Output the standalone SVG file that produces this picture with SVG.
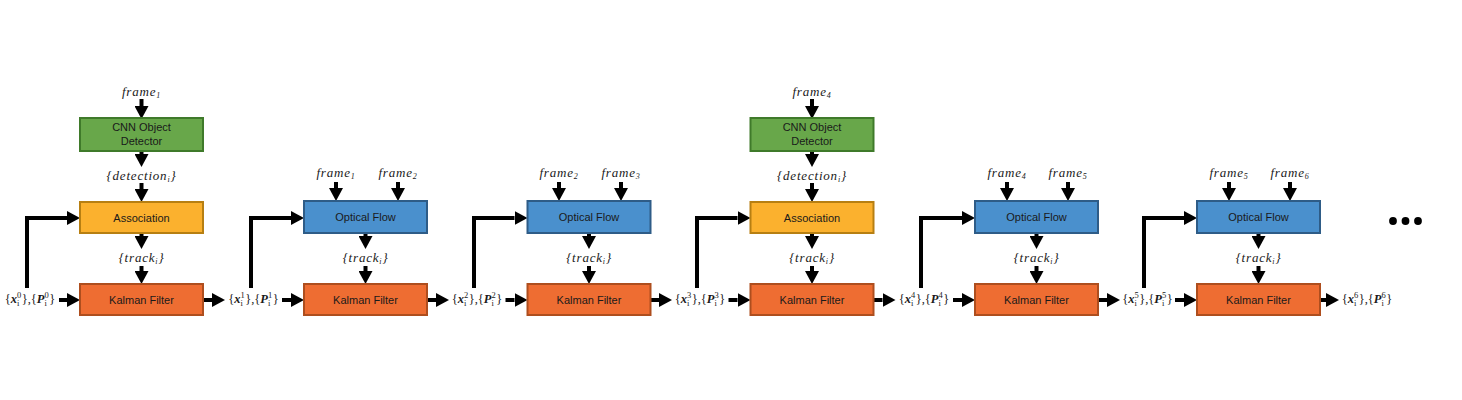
<svg xmlns="http://www.w3.org/2000/svg" width="1462" height="400" viewBox="0 0 1462 400">
<style>
.bx{stroke-width:2}
.cnn{fill:#68A74A;stroke:#3F7A2A}
.asc{fill:#FBB12E;stroke:#B77F12}
.of{fill:#4A90CD;stroke:#2E5C87}
.kf{fill:#EE6D32;stroke:#AE4E1E}
.bt{font-family:"Liberation Sans",Arial,sans-serif;font-size:11px;fill:#1a1a1a;text-anchor:middle}
.m{font-family:"Liberation Serif","Times New Roman",serif;font-size:13px;font-style:italic;fill:#1a1a1a;text-anchor:middle;letter-spacing:0.8px}
.lb{font-family:"Liberation Serif","Times New Roman",serif;font-size:12.5px;fill:#1a1a1a;text-anchor:middle}
.bi{font-weight:bold;font-style:italic}
.s{font-size:8px}
.ss{font-size:8.5px}
.ar{stroke:#000;stroke-width:4;fill:none}
</style>
<defs>
<marker id="ah" markerUnits="userSpaceOnUse" markerWidth="13" markerHeight="14" refX="0" refY="7" orient="auto">
<path d="M0,0 L13,7 L0,14 z" fill="#000"/>
</marker>
</defs>

<g id="connectors">
<!-- column 1 -->
<path class="ar" d="M141.5,99 V106" marker-end="url(#ah)"/>
<path class="ar" d="M141.5,151 V154" marker-end="url(#ah)"/>
<path class="ar" d="M141.5,183 V189" marker-end="url(#ah)"/>
<path class="ar" d="M141.5,233 V236" marker-end="url(#ah)"/>
<path class="ar" d="M141.5,266 V271" marker-end="url(#ah)"/>
<path class="ar" d="M27,288 V218 H67" marker-end="url(#ah)"/>
<path class="ar" d="M59,300 H67" marker-end="url(#ah)"/>
<path class="ar" d="M203,300 H212" marker-end="url(#ah)"/>
<!-- column 2 -->
<path class="ar" d="M336,182 V188" marker-end="url(#ah)"/>
<path class="ar" d="M398,182 V188" marker-end="url(#ah)"/>
<path class="ar" d="M365.5,233 V236" marker-end="url(#ah)"/>
<path class="ar" d="M365.5,266 V271" marker-end="url(#ah)"/>
<path class="ar" d="M251,288 V218 H291" marker-end="url(#ah)"/>
<path class="ar" d="M282,300 H291" marker-end="url(#ah)"/>
<path class="ar" d="M427,300 H436" marker-end="url(#ah)"/>
<!-- column 3 -->
<path class="ar" d="M559,182 V188" marker-end="url(#ah)"/>
<path class="ar" d="M621,182 V188" marker-end="url(#ah)"/>
<path class="ar" d="M589,233 V236" marker-end="url(#ah)"/>
<path class="ar" d="M589,266 V271" marker-end="url(#ah)"/>
<path class="ar" d="M474,288 V218 H514.5" marker-end="url(#ah)"/>
<path class="ar" d="M505.5,300 H514.5" marker-end="url(#ah)"/>
<path class="ar" d="M650,300 H659" marker-end="url(#ah)"/>
<!-- column 4 -->
<path class="ar" d="M812,99 V106" marker-end="url(#ah)"/>
<path class="ar" d="M812,151 V154" marker-end="url(#ah)"/>
<path class="ar" d="M812,183 V189" marker-end="url(#ah)"/>
<path class="ar" d="M812,233 V236" marker-end="url(#ah)"/>
<path class="ar" d="M812,266 V271" marker-end="url(#ah)"/>
<path class="ar" d="M697,288 V218 H737.5" marker-end="url(#ah)"/>
<path class="ar" d="M728.5,300 H737.5" marker-end="url(#ah)"/>
<path class="ar" d="M873.5,300 H882.5" marker-end="url(#ah)"/>
<!-- column 5 -->
<path class="ar" d="M1007,182 V188" marker-end="url(#ah)"/>
<path class="ar" d="M1068,182 V188" marker-end="url(#ah)"/>
<path class="ar" d="M1036.5,233 V236" marker-end="url(#ah)"/>
<path class="ar" d="M1036.5,266 V271" marker-end="url(#ah)"/>
<path class="ar" d="M921,288 V218 H962" marker-end="url(#ah)"/>
<path class="ar" d="M953,300 H962" marker-end="url(#ah)"/>
<path class="ar" d="M1098,300 H1107" marker-end="url(#ah)"/>
<!-- column 6 -->
<path class="ar" d="M1229,182 V188" marker-end="url(#ah)"/>
<path class="ar" d="M1290,182 V188" marker-end="url(#ah)"/>
<path class="ar" d="M1258.5,233 V236" marker-end="url(#ah)"/>
<path class="ar" d="M1258.5,266 V271" marker-end="url(#ah)"/>
<path class="ar" d="M1144,288 V218 H1184" marker-end="url(#ah)"/>
<path class="ar" d="M1175,300 H1184" marker-end="url(#ah)"/>
<path class="ar" d="M1320,300 H1326" marker-end="url(#ah)"/>
</g>

<!-- column 1 nodes -->
<g id="frame1a"><text class="m" x="141.5" y="96">frame<tspan class="s" dy="2">1</tspan></text></g>
<g id="cnn1"><rect class="bx cnn" x="80" y="118" width="123" height="33"/><text class="bt" x="141.5" y="131">CNN Object</text><text class="bt" x="141.5" y="145">Detector</text></g>
<g id="det1"><text class="m" x="141.5" y="180">{detection<tspan class="s" dy="2">i</tspan><tspan dy="-2">}</tspan></text></g>
<g id="assoc1"><rect class="bx asc" x="80" y="202" width="123" height="31"/><text class="bt" x="141.5" y="222">Association</text></g>
<g id="track1"><text class="m" x="141.5" y="262">{track<tspan class="s" dy="2">i</tspan><tspan dy="-2">}</tspan></text></g>
<g id="kf1"><rect class="bx kf" x="80" y="284" width="123" height="31"/><text class="bt" x="141.5" y="304">Kalman Filter</text></g>
<g id="state0"><text class="lb" x="30" y="303">{<tspan class="bi">x</tspan><tspan class="ss" dy="-5">0</tspan><tspan class="ss" dx="-4.3" dy="8">i</tspan><tspan dx="2.3" dy="-3">},{</tspan><tspan class="bi">P</tspan><tspan class="ss" dy="-5">0</tspan><tspan class="ss" dx="-4.3" dy="8">i</tspan><tspan dx="2.3" dy="-3">}</tspan></text></g>

<!-- column 2 nodes -->
<g id="state1"><text class="lb" x="253.5" y="303">{<tspan class="bi">x</tspan><tspan class="ss" dy="-5">1</tspan><tspan class="ss" dx="-4.3" dy="8">i</tspan><tspan dx="2.3" dy="-3">},{</tspan><tspan class="bi">P</tspan><tspan class="ss" dy="-5">1</tspan><tspan class="ss" dx="-4.3" dy="8">i</tspan><tspan dx="2.3" dy="-3">}</tspan></text></g>
<g id="frame1b"><text class="m" x="336" y="177">frame<tspan class="s" dy="2">1</tspan></text></g>
<g id="frame2b"><text class="m" x="398" y="177">frame<tspan class="s" dy="2">2</tspan></text></g>
<g id="of2"><rect class="bx of" x="304" y="201" width="123" height="32"/><text class="bt" x="365.5" y="221">Optical Flow</text></g>
<g id="track2"><text class="m" x="365.5" y="262">{track<tspan class="s" dy="2">i</tspan><tspan dy="-2">}</tspan></text></g>
<g id="kf2"><rect class="bx kf" x="304" y="284" width="123" height="31"/><text class="bt" x="365.5" y="304">Kalman Filter</text></g>

<!-- column 3 nodes -->
<g id="state2"><text class="lb" x="477" y="303">{<tspan class="bi">x</tspan><tspan class="ss" dy="-5">2</tspan><tspan class="ss" dx="-4.3" dy="8">i</tspan><tspan dx="2.3" dy="-3">},{</tspan><tspan class="bi">P</tspan><tspan class="ss" dy="-5">2</tspan><tspan class="ss" dx="-4.3" dy="8">i</tspan><tspan dx="2.3" dy="-3">}</tspan></text></g>
<g id="frame2c"><text class="m" x="559" y="177">frame<tspan class="s" dy="2">2</tspan></text></g>
<g id="frame3c"><text class="m" x="621" y="177">frame<tspan class="s" dy="2">3</tspan></text></g>
<g id="of3"><rect class="bx of" x="527.5" y="201" width="123" height="32"/><text class="bt" x="589" y="221">Optical Flow</text></g>
<g id="track3"><text class="m" x="589" y="262">{track<tspan class="s" dy="2">i</tspan><tspan dy="-2">}</tspan></text></g>
<g id="kf3"><rect class="bx kf" x="527.5" y="284" width="123" height="31"/><text class="bt" x="589" y="304">Kalman Filter</text></g>

<!-- column 4 nodes -->
<g id="state3"><text class="lb" x="700" y="303">{<tspan class="bi">x</tspan><tspan class="ss" dy="-5">3</tspan><tspan class="ss" dx="-4.3" dy="8">i</tspan><tspan dx="2.3" dy="-3">},{</tspan><tspan class="bi">P</tspan><tspan class="ss" dy="-5">3</tspan><tspan class="ss" dx="-4.3" dy="8">i</tspan><tspan dx="2.3" dy="-3">}</tspan></text></g>
<g id="frame4d"><text class="m" x="812" y="96">frame<tspan class="s" dy="2">4</tspan></text></g>
<g id="cnn4"><rect class="bx cnn" x="750.5" y="118" width="123" height="33"/><text class="bt" x="812" y="131">CNN Object</text><text class="bt" x="812" y="145">Detector</text></g>
<g id="det4"><text class="m" x="812" y="180">{detection<tspan class="s" dy="2">i</tspan><tspan dy="-2">}</tspan></text></g>
<g id="assoc4"><rect class="bx asc" x="750.5" y="202" width="123" height="31"/><text class="bt" x="812" y="222">Association</text></g>
<g id="track4"><text class="m" x="812" y="262">{track<tspan class="s" dy="2">i</tspan><tspan dy="-2">}</tspan></text></g>
<g id="kf4"><rect class="bx kf" x="750.5" y="284" width="123" height="31"/><text class="bt" x="812" y="304">Kalman Filter</text></g>

<!-- column 5 nodes -->
<g id="state4"><text class="lb" x="924" y="303">{<tspan class="bi">x</tspan><tspan class="ss" dy="-5">4</tspan><tspan class="ss" dx="-4.3" dy="8">i</tspan><tspan dx="2.3" dy="-3">},{</tspan><tspan class="bi">P</tspan><tspan class="ss" dy="-5">4</tspan><tspan class="ss" dx="-4.3" dy="8">i</tspan><tspan dx="2.3" dy="-3">}</tspan></text></g>
<g id="frame4e"><text class="m" x="1007" y="177">frame<tspan class="s" dy="2">4</tspan></text></g>
<g id="frame5e"><text class="m" x="1068" y="177">frame<tspan class="s" dy="2">5</tspan></text></g>
<g id="of5"><rect class="bx of" x="975" y="201" width="123" height="32"/><text class="bt" x="1036.5" y="221">Optical Flow</text></g>
<g id="track5"><text class="m" x="1036.5" y="262">{track<tspan class="s" dy="2">i</tspan><tspan dy="-2">}</tspan></text></g>
<g id="kf5"><rect class="bx kf" x="975" y="284" width="123" height="31"/><text class="bt" x="1036.5" y="304">Kalman Filter</text></g>

<!-- column 6 nodes -->
<g id="state5"><text class="lb" x="1147.5" y="303">{<tspan class="bi">x</tspan><tspan class="ss" dy="-5">5</tspan><tspan class="ss" dx="-4.3" dy="8">i</tspan><tspan dx="2.3" dy="-3">},{</tspan><tspan class="bi">P</tspan><tspan class="ss" dy="-5">5</tspan><tspan class="ss" dx="-4.3" dy="8">i</tspan><tspan dx="2.3" dy="-3">}</tspan></text></g>
<g id="frame5f"><text class="m" x="1229" y="177">frame<tspan class="s" dy="2">5</tspan></text></g>
<g id="frame6f"><text class="m" x="1290" y="177">frame<tspan class="s" dy="2">6</tspan></text></g>
<g id="of6"><rect class="bx of" x="1197" y="201" width="123" height="32"/><text class="bt" x="1258.5" y="221">Optical Flow</text></g>
<g id="track6"><text class="m" x="1258.5" y="262">{track<tspan class="s" dy="2">i</tspan><tspan dy="-2">}</tspan></text></g>
<g id="kf6"><rect class="bx kf" x="1197" y="284" width="123" height="31"/><text class="bt" x="1258.5" y="304">Kalman Filter</text></g>
<g id="state6"><text class="lb" x="1367" y="303">{<tspan class="bi">x</tspan><tspan class="ss" dy="-5">6</tspan><tspan class="ss" dx="-4.3" dy="8">i</tspan><tspan dx="2.3" dy="-3">},{</tspan><tspan class="bi">P</tspan><tspan class="ss" dy="-5">6</tspan><tspan class="ss" dx="-4.3" dy="8">i</tspan><tspan dx="2.3" dy="-3">}</tspan></text></g>

<g id="ellipsis">
<circle cx="1393" cy="221" r="3.9" fill="#000"/>
<circle cx="1405.5" cy="221" r="3.9" fill="#000"/>
<circle cx="1418" cy="221" r="3.9" fill="#000"/>
</g>
</svg>
